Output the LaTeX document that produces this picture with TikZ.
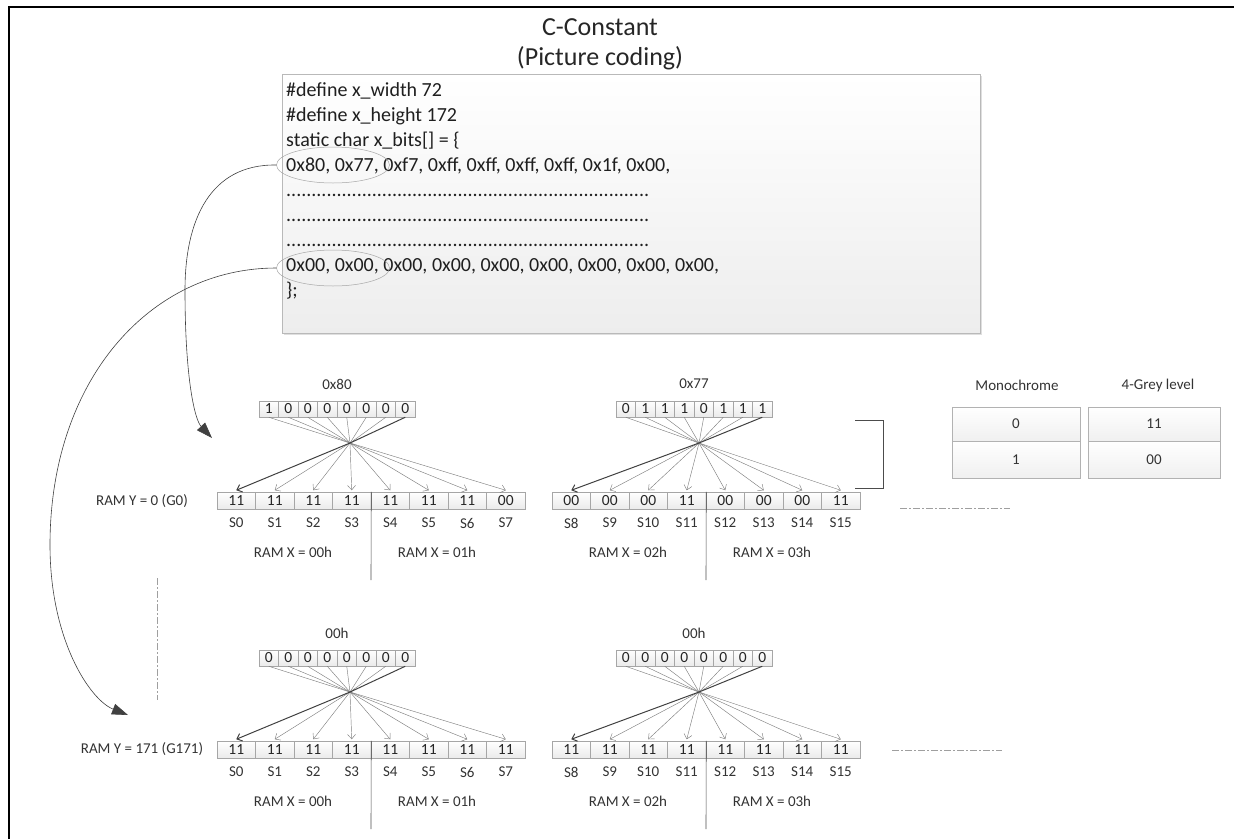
\documentclass[tikz,border=0pt]{standalone}
\usepackage{fontspec}
\setmainfont{Carlito}
\usetikzlibrary{arrows.meta,shapes.geometric,shadows}

\tikzset{
  lab/.style={font=\fontsize{15}{17}\selectfont, text=black!80, inner sep=0pt},
  codeline/.style={font=\fontsize{20}{24}\selectfont, anchor=base west, inner sep=0pt, text=black!88},
  titletext/.style={font=\fontsize{26}{30}\selectfont, text=black!85, inner sep=0pt},
  topcell/.style={draw=gray!70, line width=0.5pt, top color=white, bottom color=gray!16,
    minimum width=19.5pt, minimum height=16pt, inner sep=0pt, font=\fontsize{15.5}{16}\selectfont, text=black!85},
  botcell/.style={draw=gray!70, line width=0.5pt, top color=white, bottom color=gray!16,
    minimum width=38.5pt, minimum height=17pt, inner sep=0pt, font=\fontsize{15.5}{16}\selectfont, text=black!85},
  fan/.style={draw=black!50, line width=0.45pt},
  fanbold/.style={draw=black!75, line width=1pt},
  barb/.style={-{Straight Barb[length=4.5pt,width=8pt]}},
  bigarrow/.style={draw=black!75, line width=0.6pt, -{Triangle[length=16pt,width=11pt]}},
  divider/.style={draw=black!70, line width=0.6pt},
  dashdot/.style={draw=gray!75, line width=0.7pt, dash pattern=on 7pt off 2pt on 2pt off 2pt},
  codebox/.style={draw=gray!55, line width=0.6pt, top color=white, bottom color=gray!14,
    minimum width=698pt, minimum height=259pt, inner sep=0pt,
    drop shadow={shadow xshift=1.5pt, shadow yshift=-1.5pt, opacity=0.25}},
  codering/.style={ellipse, draw=gray!70, line width=0.5pt, minimum width=113pt, minimum height=36pt, inner sep=0pt},
  tcell/.style={draw=gray!60, line width=0.5pt, top color=white, bottom color=gray!12,
    minimum height=34pt, inner sep=0pt, font=\fontsize{15}{17}\selectfont, text=black!80,
    drop shadow={shadow xshift=1pt, shadow yshift=-1pt, opacity=0.2}},
  bracketline/.style={draw=black!70, line width=0.9pt},
  frameline/.style={draw=black, line width=1.8pt},
}

% #1 prefix, #2 bottom register left, #3 top register left, #4 fan centre x,
% #5 y shift, #6 hex label, #7 top bits, #8 bottom values, #9 first S index
\newcommand\grp[9]{%
  \node[lab] (#1h) at ({#3+78},{384+#5}) {#6};
  \foreach \bit [count=\i from 0] in {#7} {
    \node[topcell] (#1t\i) at ({#3+9.75+19.5*\i},{409+#5}) {\bit};
  }
  \coordinate (#1c) at (#4,{443+#5});
  \foreach \v [count=\i from 0] in {#8} {
    \pgfmathtruncatemacro\s{#9+\i}
    \node[botcell] (#1b\i) at ({#2+19.25+38.5*\i},{500.5+#5}) {\v};
    \node[lab] (#1s\i) at ({#2+19.25+38.5*\i},{523+#5}) {S\s};
  }
  \foreach \i in {0,...,7} {
    \pgfmathtruncatemacro\j{7-\i}
    \ifnum\i=7
      \draw[fanbold] (#1t\i.south) -- (#1c);
      \draw[fanbold,barb] (#1c) -- ([yshift=1.5pt]#1b\j.north);
    \else
      \draw[fan] (#1t\i.south) -- (#1c);
      \draw[fan,barb] (#1c) -- ([yshift=1.5pt]#1b\j.north);
    \fi
  }
  \pgfmathtruncatemacro\ra{#9/4}
  \pgfmathtruncatemacro\rb{#9/4+1}
  \node[lab] (#1x0) at ({#2+76},{552+#5}) {RAM X = 0\ra h};
  \node[lab] (#1x1) at ({#2+220},{552+#5}) {RAM X = 0\rb h};
  \coordinate (#1e) at ({#2+154},{580+#5});
  \draw[divider] (#1b3.north east) -- (#1e);
}

\begin{document}
\begin{tikzpicture}[x=1pt,y=-1pt]
\useasboundingbox (0,0) rectangle (1234,839);

% frame
\draw[frameline] (9,839) -- (9,7) -- (1234,7);

% title
\node[titletext] (t1) at (600,27) {C-Constant};
\node[titletext] (t2) at (600,58) {(Picture coding)};

% code box
\node[codebox] (code) at (631,203.5) {};
\node[codeline] (l1) at (286,96) {\#define x\_width 72};
\node[codeline] (l2) at (286,121) {\#define x\_height 172};
\node[codeline] (l3) at (286,146) {static char x\_bits[] = \{};
\node[codeline] (l4) at (286,171) {0x80, 0x77, 0xf7, 0xff, 0xff, 0xff, 0xff, 0x1f, 0x00,};
\node[codeline] (l5) at (286,196) {\makebox[363pt][l]{........................................................................}};
\node[codeline] (l6) at (286,221) {\makebox[366pt][l]{........................................................................}};
\node[codeline] (l7) at (286,246) {\makebox[366pt][l]{........................................................................}};
\node[codeline] (l8) at (286,271) {0x00, 0x00, 0x00, 0x00, 0x00, 0x00, 0x00, 0x00, 0x00,};
\node[codeline] (l9) at (286,296) {\};};

\node[codering] (e1) at (333,165) {};
\node[codering] (e2) at (333,268) {};

% groups
\grp{a}{217}{259}{350}{0}{0x80}{1,0,0,0,0,0,0,0}{11,11,11,11,11,11,11,00}{0}
\grp{b}{552}{616}{699}{0}{0x77}{0,1,1,1,0,1,1,1}{00,00,00,11,00,00,00,11}{8}
\grp{c}{217}{259}{350}{249}{00h}{0,0,0,0,0,0,0,0}{11,11,11,11,11,11,11,11}{0}
\grp{d}{552}{616}{699}{249}{00h}{0,0,0,0,0,0,0,0}{11,11,11,11,11,11,11,11}{8}

% RAM Y labels
\node[lab] (ry0) at (142,501) {RAM Y = 0 (G0)};
\node[lab] (ry1) at (142,749) {RAM Y = 171 (G171)};

% big curved arrows
\coordinate (tipA) at (212,438);
\coordinate (tipB) at (128,715);
\draw[bigarrow] (e1.west) .. controls (210,164) and (185,220) .. (185,290)
  .. controls (185,380) and (195,420) .. (tipA);
\draw[bigarrow] (e2.west) .. controls (150,268) and (50,380) .. (50,545)
  .. controls (50,640) and (90,700) .. (tipB);

% dash-dot continuation lines
\coordinate (vd1) at (157,578);
\coordinate (vd2) at (157,700);
\draw[dashdot] (vd1) -- (vd2);
\coordinate (hd1) at (900,508);
\coordinate (hd2) at (1010,508);
\draw[dashdot] (hd1) -- (hd2);
\coordinate (hd3) at (892,750);
\coordinate (hd4) at (1002,750);
\draw[dashdot] (hd3) -- (hd4);

% bracket
\draw[bracketline] (855,420) -- (883,420) -- (883,488) -- (855,488);

% mapping table
\node[lab] (mh) at (1017,385) {Monochrome};
\node[lab] (gh) at (1158,385) {4-Grey level};
\node[tcell, minimum width=128pt] (m0) at (1016,424) {0};
\node[tcell, minimum width=132pt] (g0) at (1154,424) {11};
\node[tcell, minimum width=128pt, minimum height=37pt] (m1) at (1016,459.5) {1};
\node[tcell, minimum width=132pt, minimum height=37pt] (g1) at (1154,459.5) {00};
\end{tikzpicture}
\end{document}
